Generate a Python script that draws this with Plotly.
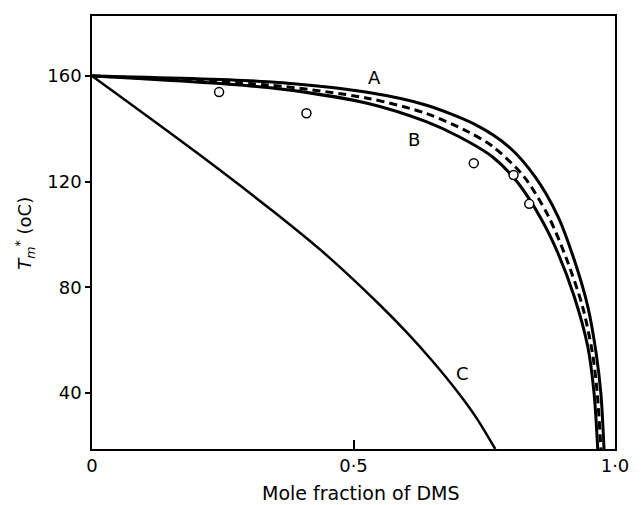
import plotly.graph_objects as go

# Curve A (upper solid)
a_x = [0.0, 0.336, 0.526, 0.638, 0.733, 0.797, 0.847, 0.891, 0.922, 0.948, 0.964, 0.973, 0.979]
a_t = [160.0, 157.8, 153.8, 149.0, 141.6, 133.2, 121.9, 106.8, 90.4, 72.7, 55.0, 39.9, 18.8]

# Dashed curve between A and B
d_x = [0.0, 0.336, 0.526, 0.638, 0.72, 0.767, 0.826, 0.873, 0.908, 0.938, 0.957, 0.966, 0.973]
d_t = [160.0, 156.6, 151.6, 145.9, 138.8, 133.2, 121.9, 106.8, 90.4, 72.7, 55.0, 40.0, 18.8]

# Curve B (lower solid)
b_x = [0.0, 0.336, 0.526, 0.639, 0.702, 0.765, 0.815, 0.860, 0.891, 0.922, 0.948, 0.960, 0.967]
b_t = [160.0, 155.6, 149.7, 142.7, 137.0, 129.5, 119.4, 105.5, 92.9, 76.5, 57.5, 39.9, 18.8]

# Curve C
c_x = [0.0, 0.2, 0.35, 0.45, 0.55, 0.60, 0.65, 0.70, 0.735, 0.771]
c_t = [160.0, 131.0, 108.2, 91.9, 73.4, 63.3, 52.3, 40.2, 30.6, 18.8]

# Measured points
pt_x = [0.243, 0.410, 0.730, 0.806, 0.836]
pt_t = [153.9, 145.9, 127.0, 122.5, 111.6]

# Curve labels
lab_text = ["A", "B", "C"]
lab_x = [0.541, 0.616, 0.708]
lab_t = [159.6, 135.8, 47.5]

x_ticks = [0, 0.5, 1.0]
x_ticktext = ["0", "0·5", "1·0"]
y_ticks = [40, 80, 120, 160]

FONT = "DejaVu Sans"
fig = go.Figure()

line_kw = dict(mode="lines", line_shape="spline", showlegend=False, hoverinfo="skip")
fig.add_trace(go.Scatter(x=a_x, y=a_t, line=dict(color="black", width=3, smoothing=0.8), **line_kw))
fig.add_trace(go.Scatter(x=b_x, y=b_t, line=dict(color="black", width=3, smoothing=0.8), **line_kw))
fig.add_trace(go.Scatter(x=d_x, y=d_t, line=dict(color="black", width=3, dash="8px,5px", smoothing=0.8), **line_kw))
fig.add_trace(go.Scatter(x=c_x, y=c_t, line=dict(color="black", width=2.5, smoothing=1.0), **line_kw))

fig.add_trace(go.Scatter(
    x=pt_x, y=pt_t, mode="markers", showlegend=False,
    marker=dict(symbol="circle", size=9, color="white", line=dict(color="black", width=1.5)),
))

for t, x, y in zip(lab_text, lab_x, lab_t):
    fig.add_annotation(x=x, y=y, text=t, showarrow=False,
                       font=dict(family=FONT, size=18, color="black"))

# Axis titles
fig.add_annotation(xref="paper", yref="paper", x=-0.1285, y=0.499,
                   text="<i>T</i><sub><i>m</i></sub><sup>*</sup> (oC)", textangle=-90,
                   showarrow=False, xanchor="center", yanchor="middle",
                   font=dict(family=FONT, size=18, color="black"))
fig.add_annotation(xref="paper", yref="paper", x=0.514, y=-0.1016,
                   text="Mole fraction of DMS", showarrow=False,
                   xanchor="center", yanchor="middle",
                   font=dict(family=FONT, size=19, color="black"))

fig.update_xaxes(range=[0, 1.0], tickvals=x_ticks, ticktext=x_ticktext,
                 ticks="inside", ticklen=9, tickwidth=1.5, tickcolor="black",
                 showline=True, linecolor="black", linewidth=1.5, mirror=True,
                 showgrid=False, zeroline=False,
                 tickfont=dict(family=FONT, size=18, color="black"))
fig.update_yaxes(range=[18.8, 182.7], tickvals=y_ticks,
                 ticks="outside", ticklen=5, tickwidth=1.5, tickcolor="black",
                 showline=True, linecolor="black", linewidth=1.5, mirror=True,
                 showgrid=False, zeroline=False,
                 tickfont=dict(family=FONT, size=18, color="black"))

fig.update_layout(width=641, height=505,
                  margin=dict(l=92, r=20, t=16, b=56),
                  paper_bgcolor="white", plot_bgcolor="white")

fig.write_html("out.html")
